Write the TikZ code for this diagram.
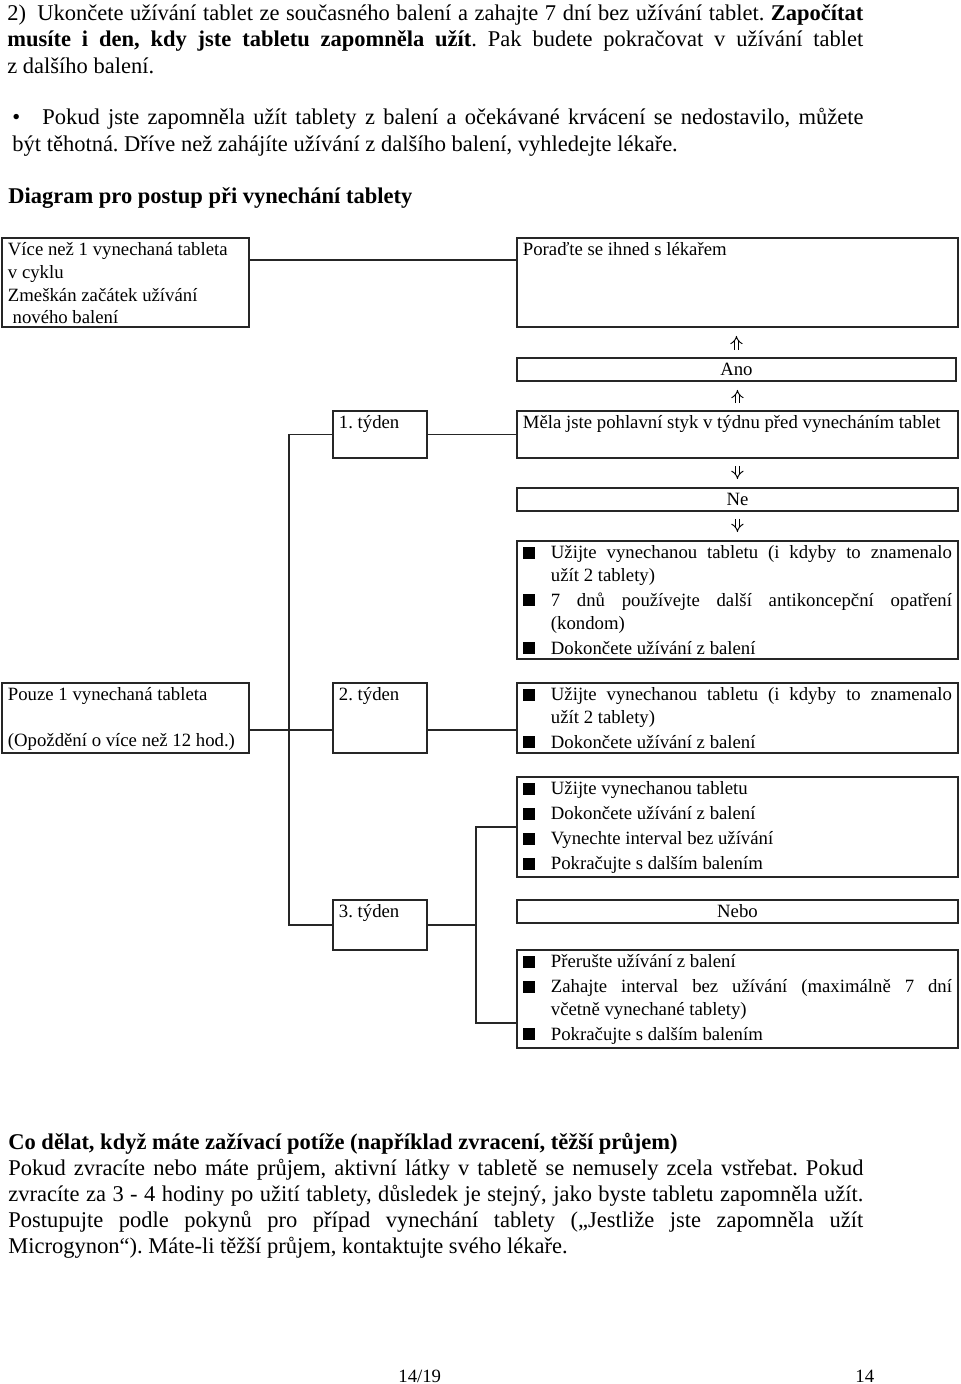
\documentclass[tikz,border=0pt]{standalone}
\usepackage{fontspec}
\setmainfont{Liberation Serif}
\usetikzlibrary{arrows.meta, positioning, calc}
\frenchspacing

\newlength\px \setlength\px{0.53333pt}
\newcommand\diagfont{\fontsize{10}{12.1}\selectfont}
\newcommand\bodyfont{\fontsize{12}{13.87}\selectfont}
% text sitting at the top left of a box of given size (in px)
\newcommand\boxtxt[3]{\parbox[t][\dimexpr#2\px-4\px\relax][t]{\dimexpr#1\px-12\px\relax}{\strut#3}}
% one item with a black square
\newcommand\bitem[1]{\hangindent=28\px\hangafter=1\noindent\makebox[28\px][l]{\rule{12\px}{12\px}}#1\par\vskip1.2pt}

\begin{document}
\begin{tikzpicture}[
        x=0.53333pt, y=-0.53333pt,
        box/.style={draw=black!85, line width=1pt, anchor=north west, inner xsep=6\px, inner ysep=2\px, font=\diagfont},
        tag/.style={box, inner sep=0pt, minimum height=23\px, minimum width=441\px},
        link/.style={draw=black!85, line width=1pt},
        dblarrow/.style={double=white, double distance=1.8pt, line width=0.5pt, -{Implies}, shorten <=7\px, shorten >=8\px},
        para/.style={anchor=base west, inner sep=0pt, font=\bodyfont, align=justify}
    ]
        \fill[white] (0,0) rectangle (960,1384);
        \useasboundingbox (0,0) rectangle (960,1384);

        % Text nad diagramem
        \node[para, text width=856\px] (intro) at (7,21) {\hangindent=30\px\hangafter=1\makebox[30\px][l]{2)}Ukončete užívání tablet ze současného balení a zahajte 7 dní bez užívání tablet. \textbf{Započítat}\linebreak \textbf{musíte i den, kdy jste tabletu zapomněla užít}. Pak budete pokračovat v~užívání tablet\linebreak z~dalšího balení.};
        \node[para, text width=851\px] (note) at (12,125) {\hangindent=30\px\hangafter=1\makebox[30\px][l]{\textbullet}Pokud jste zapomněla užít tablety z~balení a očekávané krvácení se nedostavilo, můžete\linebreak být těhotná. Dříve než zahájíte užívání z~dalšího balení, vyhledejte lékaře.};
        \node[para, font=\bodyfont\bfseries] (title) at (8,204) {Diagram pro postup při vynechání tablety};

        % Více než 1 tableta
        \node[box] (more) at (1,237) {\boxtxt{247}{89}{Více než 1 vynechaná tableta\\ v cyklu\\ Zmeškán začátek užívání\\ \hspace*{0.25em}nového balení}};
        \node[box] (doc) at (516,237) {\boxtxt{441}{89}{Poraďte se ihned s lékařem}};
        \node[tag, minimum width=439\px] (yes) at (516,357) {Ano};

        % 1. týden
        \node[box] (wk1) at (332,410) {\boxtxt{94}{47}{1. týden}};
        \node[box] (sex) at (516,410) {\boxtxt{441}{47}{Měla jste pohlavní styk v týdnu před vynecháním tablet}};
        \node[tag] (no) at (516,487) {Ne};
        \node[box] (act1) at (516,540) {\boxtxt{441}{118}{%
            \bitem{Užijte vynechanou tabletu (i kdyby to znamenalo\linebreak užít 2 tablety)}%
            \bitem{7 dnů používejte další antikoncepční opatření\linebreak (kondom)}%
            \bitem{Dokončete užívání z balení}}};

        % Pouze 1 tableta, 2. týden
        \node[box] (one) at (1,682) {\boxtxt{247}{70}{Pouze 1 vynechaná tableta\\[12.1pt](Opoždění o více než 12 hod.)}};
        \node[box] (wk2) at (332,682) {\boxtxt{94}{70}{2. týden}};
        \node[box] (act2) at (516,682) {\boxtxt{441}{70}{%
            \bitem{Užijte vynechanou tabletu (i kdyby to znamenalo\linebreak užít 2 tablety)}%
            \bitem{Dokončete užívání z balení}}};

        % 3. týden
        \node[box] (act3) at (516,776) {\boxtxt{441}{100}{%
            \bitem{Užijte vynechanou tabletu}%
            \bitem{Dokončete užívání z balení}%
            \bitem{Vynechte interval bez užívání}%
            \bitem{Pokračujte s dalším balením}}};
        \node[box] (wk3) at (332,899) {\boxtxt{94}{50}{3. týden}};
        \node[tag] (or) at (516,899) {Nebo};
        \node[box] (act4) at (516,949) {\boxtxt{441}{98}{%
            \bitem{Přerušte užívání z balení}%
            \bitem{Zahajte interval bez užívání (maximálně 7 dní\linebreak včetně vynechané tablety)}%
            \bitem{Pokračujte s dalším balením}}};

        % Spojnice
        \coordinate (trunk) at ([xshift=-43\px]wk1.west);
        \coordinate (fork) at ([xshift=48\px]wk3.east);
        \draw[link] ([yshift=-23\px]more.north east) -- ([yshift=-23\px]doc.north west);
        \draw[link] (wk1.east) -- (sex.west);
        \draw[link] (wk1.west) -- (trunk) |- (wk3.west);
        \draw[link] ([yshift=-12\px]one.east) -- ([yshift=-12\px]wk2.west);
        \draw[link] ([yshift=-12\px]wk2.east) -- ([yshift=-12\px]act2.west);
        \draw[link] (wk3.east) -- (fork);
        \draw[link] (act3.west) -| (fork) |- ([yshift=-24\px]act4.west);

        % Šipky
        \draw[dblarrow] (yes.north) -- (yes.north |- doc.south);
        \draw[dblarrow] (sex.north) -- (sex.north |- yes.south);
        \draw[dblarrow] (sex.south) -- (sex.south |- no.north);
        \draw[dblarrow] (no.south) -- (no.south |- act1.north);

        % Text pod diagramem
        \node[para, text width=855\px] (gut) at (8,1149) {\textbf{Co dělat, když máte zažívací potíže (například zvracení, těžší průjem)}\\ Pokud zvracíte nebo máte průjem, aktivní látky v tabletě se nemusely zcela vstřebat. Pokud\linebreak zvracíte za 3 - 4 hodiny po užití tablety, důsledek je stejný, jako byste tabletu zapomněla užít.\linebreak Postupujte podle pokynů pro případ vynechání tablety („Jestliže jste zapomněla užít\linebreak Microgynon“). Máte-li těžší průjem, kontaktujte svého lékaře.};
        \node[para, font=\diagfont] (pg) at (398,1382) {14/19};
        \node[para, font=\diagfont] (pgno) at (855,1382) {14};
    \end{tikzpicture}
\end{document}
